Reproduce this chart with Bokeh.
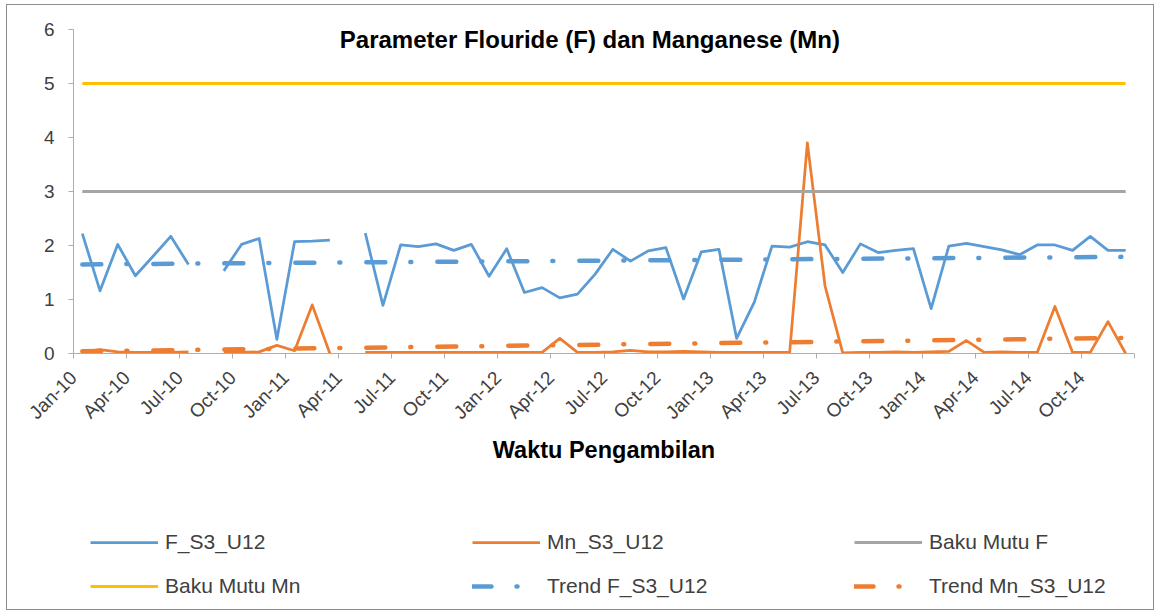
import math
from bokeh.plotting import figure
from bokeh.layouts import column
from bokeh.models import Range1d, FixedTicker, Legend, LegendItem, Label
from bokeh.embed import file_html
from bokeh.resources import INLINE

nan = float("nan")

# ---- data (monthly, Jan-10 .. Dec-14) ----
tick_labels = ["Jan-10", "Apr-10", "Jul-10", "Oct-10",
               "Jan-11", "Apr-11", "Jul-11", "Oct-11",
               "Jan-12", "Apr-12", "Jul-12", "Oct-12",
               "Jan-13", "Apr-13", "Jul-13", "Oct-13",
               "Jan-14", "Apr-14", "Jul-14", "Oct-14"]

f_s3_u12 = [2.22, 1.16, 2.02, 1.44, 1.80, 2.17, 1.65, nan, 1.53, 2.02,
            2.13, 0.26, 2.07, 2.08, 2.10, nan, 2.23, 0.89, 2.01, 1.98,
            2.03, 1.91, 2.02, 1.43, 1.94, 1.13, 1.22, 1.03, 1.10, 1.47,
            1.93, 1.71, 1.90, 1.96, 1.01, 1.88, 1.93, 0.28, 0.95, 1.99,
            1.97, 2.07, 2.01, 1.50, 2.03, 1.87, 1.91, 1.94, 0.83, 1.99,
            2.04, 1.98, 1.92, 1.83, 2.01, 2.01, 1.91, 2.17, 1.91, 1.91]

mn_s3_u12 = [0.03, 0.07, 0.03, 0.02, 0.02, 0.02, 0.03, nan, 0.02, 0.02,
             0.03, 0.15, 0.05, 0.90, 0.00, nan, 0.02, 0.02, 0.02, 0.02,
             0.02, 0.02, 0.02, 0.02, 0.02, 0.02, 0.02, 0.28, 0.02, 0.02,
             0.03, 0.06, 0.03, 0.03, 0.04, 0.03, 0.02, 0.02, 0.02, 0.02,
             0.02, 3.90, 1.25, 0.01, 0.02, 0.02, 0.03, 0.02, 0.03, 0.04,
             0.24, 0.02, 0.03, 0.02, 0.02, 0.87, 0.02, 0.02, 0.59, 0.00]

baku_mutu_f = 3.0
baku_mutu_mn = 5.0

trend_f_ends = [1.65, 1.79]     # trend value at first and last month
trend_mn_ends = [0.04, 0.29]

series_names = ["F_S3_U12", "Mn_S3_U12", "Baku Mutu F",
                "Baku Mutu Mn", "Trend F_S3_U12", "Trend Mn_S3_U12"]

n_months = len(f_s3_u12)
x_mid = [i + 0.5 for i in range(n_months)]
x_ends = [x_mid[0], x_mid[-1]]

BLUE = "#5B9BD5"
ORANGE = "#ED7D31"
GRAY = "#A5A5A5"
GOLD = "#FFC000"
AXIS = "#ADADAD"
TXT = "#404040"
FONT = "Liberation Sans"

W = 1146

p = figure(width=W, height=490,
           x_range=Range1d(0, n_months), y_range=Range1d(0, 6),
           output_backend="svg", toolbar_location=None,
           min_border_left=66, min_border_right=19,
           min_border_top=24, min_border_bottom=142)
p.outline_line_color = None
p.xgrid.visible = False
p.ygrid.visible = False
p.background_fill_color = "white"
p.border_fill_color = "white"

# axes
p.yaxis.ticker = FixedTicker(ticks=[0, 1, 2, 3, 4, 5, 6])
p.yaxis.minor_tick_line_color = None
p.yaxis.major_tick_out = 5
p.yaxis.major_tick_in = 0
p.yaxis.axis_line_color = AXIS
p.yaxis.major_tick_line_color = AXIS
p.yaxis.major_label_text_font = FONT
p.yaxis.major_label_text_font_size = "19px"
p.yaxis.major_label_text_color = TXT
p.yaxis.major_label_standoff = 14

xt = list(range(0, n_months + 1, 3))
p.xaxis.ticker = FixedTicker(ticks=xt)
overrides = {t: (tick_labels[k] if k < len(tick_labels) else "") for k, t in enumerate(xt)}
p.xaxis.major_label_overrides = overrides
p.xaxis.major_label_orientation = math.pi / 4
p.xaxis.minor_tick_line_color = None
p.xaxis.major_tick_out = 5
p.xaxis.major_tick_in = 0
p.xaxis.axis_line_color = AXIS
p.xaxis.major_tick_line_color = AXIS
p.xaxis.major_label_text_font = FONT
p.xaxis.major_label_text_font_size = "19px"
p.xaxis.major_label_text_color = TXT
p.xaxis.major_label_standoff = 16
p.xaxis.axis_label = "Waktu Pengambilan"
p.xaxis.axis_label_text_font = FONT
p.xaxis.axis_label_text_font_style = "bold"
p.xaxis.axis_label_text_font_size = "23.5px"
p.xaxis.axis_label_text_color = "black"
p.xaxis.axis_label_standoff = 4

styles = [dict(line_color=BLUE, line_width=2.75, line_join="round"),
          dict(line_color=ORANGE, line_width=2.75, line_join="round"),
          dict(line_color=GRAY, line_width=3),
          dict(line_color=GOLD, line_width=3),
          dict(line_color=BLUE, line_width=4.5, line_dash="19 25 1 26", line_cap="round"),
          dict(line_color=ORANGE, line_width=4.5, line_dash="19 25 1 26", line_cap="round")]
series_y = [f_s3_u12, mn_s3_u12, [baku_mutu_f] * 2, [baku_mutu_mn] * 2,
            trend_f_ends, trend_mn_ends]
series_x = [x_mid, x_mid, x_ends, x_ends, x_ends, x_ends]

for xs, ys, st in zip(series_x, series_y, styles):
    p.line(xs, ys, **st)

# title
p.add_layout(Label(x=29.2, y=5.82, text="Parameter Flouride (F) dan Manganese (Mn)",
                   text_font=FONT, text_font_style="bold", text_font_size="24px",
                   text_color="black", text_align="center", text_baseline="alphabetic"))

# legend panel: same series, drawn out of view, so only the legend shows
q = figure(width=W, height=114, x_range=Range1d(-200, -199), y_range=Range1d(0, 1),
           output_backend="svg", toolbar_location=None,
           x_axis_location=None, y_axis_location=None,
           min_border=0, min_border_left=0, min_border_right=0,
           min_border_top=0, min_border_bottom=0)
q.outline_line_color = None
q.xgrid.visible = False
q.ygrid.visible = False
q.border_fill_color = "white"

items = []
for name, xs, ys, st in zip(series_names, series_x, series_y, styles):
    r = q.line(xs, ys, **st)
    items.append(LegendItem(label=name, renderers=[r]))

legend = Legend(items=items, orientation="horizontal", ncols=3, location=(17, 11),
                glyph_width=68, glyph_height=20, label_standoff=7,
                label_width=287, label_height=20, spacing=20, padding=0,
                margin=0, border_line_color=None, background_fill_alpha=0,
                label_text_font=FONT, label_text_font_size="21px",
                label_text_color=TXT)
q.add_layout(legend)

layout = column(p, q, spacing=0)
layout.styles = {"border": "1px solid #8C8C8C", "margin-left": "6px", "margin-top": "4px"}

open("out.html", "w").write(file_html(layout, INLINE))
